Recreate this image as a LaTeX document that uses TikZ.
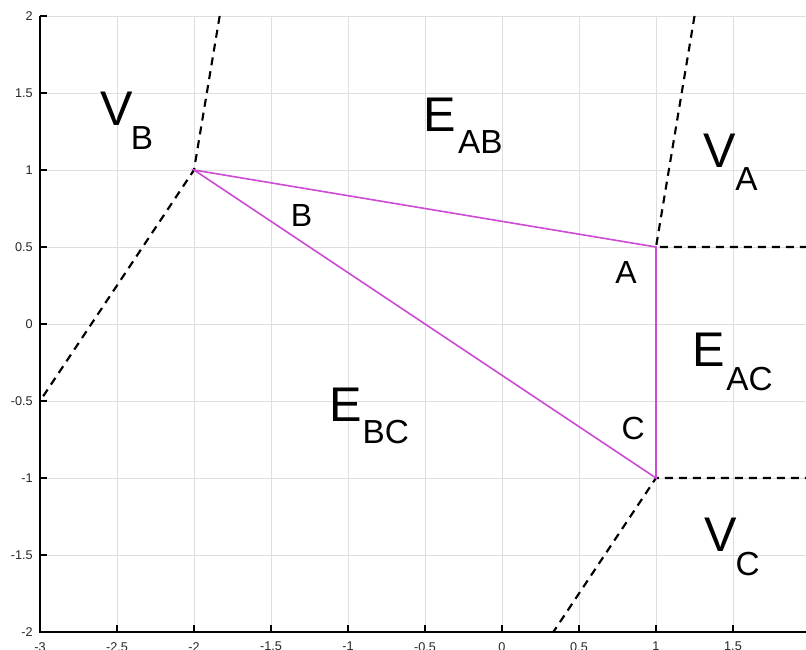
\documentclass[tikz,border=0pt]{standalone}
\usepackage{fontspec}
\setmainfont{Liberation Sans}
\definecolor{tri}{RGB}{205,75,215}
\definecolor{gridc}{RGB}{222,222,222}
\definecolor{tickc}{RGB}{38,38,38}
\begin{document}
\begin{tikzpicture}[x=115.5pt,y=115.5pt,
  gridline/.style={draw=gridc,line width=0.6pt},
  axisline/.style={draw=black,line width=0.8pt},
  ticklbl/.style={text=tickc,font=\fontsize{9.5}{11}\selectfont,inner sep=0pt},
  bisector/.style={draw=black,line width=1.6pt,dash pattern=on 6pt off 4.5pt},
  edge/.style={draw=tri,line width=1.2pt},
  biglbl/.style={font=\fontsize{36.5}{40}\selectfont,inner sep=0pt,anchor=base west},
  sublbl/.style={font=\fontsize{25}{28}\selectfont,inner sep=0pt,anchor=base west},
  vertlbl/.style={font=\fontsize{24}{28}\selectfont,inner sep=0pt,anchor=base west}]
\useasboundingbox (-3.2597,-2.1104) rectangle (1.9740,2.1039);
\fill[white] (-3.2597,-2.1104) rectangle (1.9740,2.1039);
\clip (-3.2597,-2.1104) rectangle (1.9740,2.1039);
% grid
\foreach \gx in {-2.5,-2,...,2} \draw[gridline] (\gx,-2) -- (\gx,2);
\foreach \gy in {-1.5,-1,...,2} \draw[gridline] (-3,\gy) -- (2.2,\gy);
% axes
\coordinate (O) at (-3,-2);
\coordinate (Ytop) at (-3,2);
\coordinate (Xend) at (2.2,-2);
\draw[axisline] (Ytop) -- (O) -- (Xend);
\foreach \gx in {-3,-2.5,...,2} \draw[axisline] (\gx,-2) -- ++(0,5.25pt);
\foreach \gy in {-2,-1.5,...,2} \draw[axisline] (-3,\gy) -- ++(5.25pt,0);
% tick labels
\foreach \gy/\t in {-2/-2,-1.5/-1.5,-1/-1,-0.5/-0.5,0/0,0.5/0.5,1/1,1.5/1.5,2/2}
  \node[ticklbl,anchor=east] (yl\t) at ([xshift=-5.3pt]-3,\gy) {\t};
\foreach \gx/\t in {-3/-3,-2.5/-2.5,-2/-2,-1.5/-1.5,-1/-1,-0.5/-0.5,0/0,0.5/0.5,1/1,1.5/1.5,2/2}
  \node[ticklbl,anchor=north] (xl\t) at ([yshift=-7.5pt]\gx,-2) {\t};
% vertices
\coordinate (A) at (1,0.5);
\coordinate (B) at (-2,1);
\coordinate (C) at (1,-1);
\coordinate (Bup) at (-1.8333,2);
\coordinate (Bdn) at (-3,-0.5);
\coordinate (Aup) at (1.25,2);
\coordinate (Art) at (2.2,0.5);
\coordinate (Crt) at (2.2,-1);
\coordinate (Cdn) at (0.3333,-2);
% bisectors
\draw[bisector] (Bup) -- (B) -- (Bdn);
\draw[bisector] (Aup) -- (A) -- (Art);
\draw[bisector] (Crt) -- (C) -- (Cdn);
% triangle
\draw[edge] (A) -- (B) -- (C) -- cycle;
% region labels
\node[biglbl] (VB) at (-2.610,1.286) {V};
\node[sublbl] (VBs) at (-2.412,1.130) {B};
\node[biglbl] (EAB) at (-0.512,1.247) {E};
\node[sublbl] (EABs) at (-0.286,1.104) {AB};
\node[biglbl] (VA) at (1.305,1.019) {V};
\node[sublbl] (VAs) at (1.513,0.864) {A};
\node[biglbl] (EAC) at (1.235,-0.273) {E};
\node[sublbl] (EACs) at (1.455,-0.429) {AC};
\node[biglbl] (VC) at (1.312,-1.474) {V};
\node[sublbl] (VCs) at (1.516,-1.636) {C};
\node[biglbl] (EBC) at (-1.122,-0.630) {E};
\node[sublbl] (EBCs) at (-0.906,-0.779) {BC};
% vertex labels
\node[vertlbl] (lA) at (0.734,0.266) {A};
\node[vertlbl] (lB) at (-1.373,0.636) {B};
\node[vertlbl] (lC) at (0.775,-0.753) {C};
\end{tikzpicture}
\end{document}
